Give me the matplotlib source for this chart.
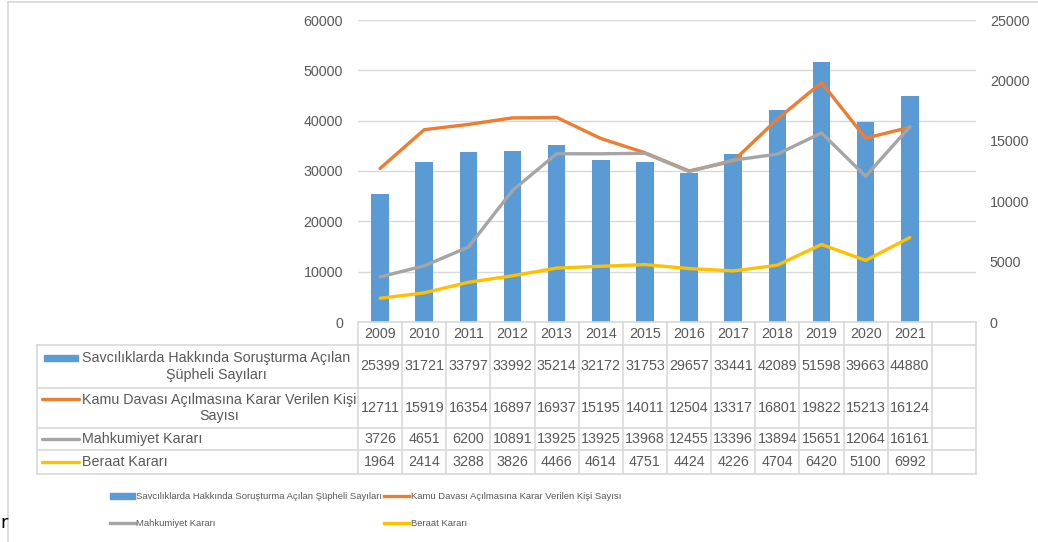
import numpy as np
import matplotlib
matplotlib.use('Agg')
import matplotlib.pyplot as plt
import matplotlib.transforms as mtransforms
from matplotlib.lines import Line2D
from matplotlib.patches import Patch, Rectangle


#----------------------------------------------------------------------------------------------------
#   Data                                                                                            -
#----------------------------------------------------------------------------------------------------

years = ['2009', '2010', '2011', '2012', '2013', '2014', '2015', '2016', '2017', '2018', '2019', '2020', '2021']

supheli = [25399, 31721, 33797, 33992, 35214, 32172, 31753, 29657, 33441, 42089, 51598, 39663, 44880]
kamu_davasi = [12711, 15919, 16354, 16897, 16937, 15195, 14011, 12504, 13317, 16801, 19822, 15213, 16124]
mahkumiyet = [3726, 4651, 6200, 10891, 13925, 13925, 13968, 12455, 13396, 13894, 15651, 12064, 16161]
beraat = [1964, 2414, 3288, 3826, 4466, 4614, 4751, 4424, 4226, 4704, 6420, 5100, 6992]

names = ['Savcılıklarda Hakkında Soruşturma Açılan Şüpheli Sayıları',
         'Kamu Davası Açılmasına Karar Verilen Kişi Sayısı',
         'Mahkumiyet Kararı',
         'Beraat Kararı']
# row labels as wrapped inside the data table
table_labels = ['Savcılıklarda Hakkında Soruşturma Açılan\nŞüpheli Sayıları',
                'Kamu Davası Açılmasına Karar Verilen Kişi\nSayısı',
                'Mahkumiyet Kararı',
                'Beraat Kararı']

colors = ['#5B9BD5', '#ED7D31', '#A5A5A5', '#FFC000']
text_col = '#595959'
grid_col = '#D9D9D9'


#----------------------------------------------------------------------------------------------------
#   Layout (pixels)                                                                                 -
#----------------------------------------------------------------------------------------------------

W, H = 1038, 542
PL, PR, PT, PB = 358, 976, 20, 322
row_edges = [322, 345, 388, 428, 450, 474]
label_left = 37

plt.rcParams['font.family'] = 'Liberation Sans'
fs = 10.3

fig = plt.figure(figsize=(W / 100, H / 100), dpi=100)
px = mtransforms.Affine2D().scale(1 / W, -1 / H).translate(0, 1) + fig.transFigure

ax = fig.add_axes([PL / W, 1 - PB / H, (PR - PL) / W, (PB - PT) / H])
ax2 = ax.twinx()

x = np.arange(len(years))
ncols = len(years) + 1   # Excel left one empty category at the end

ax.bar(x, supheli, width=0.4, color=colors[0], zorder=2)
ax2.plot(x, kamu_davasi, color=colors[1], lw=2.4, solid_capstyle='round')
ax2.plot(x, mahkumiyet, color=colors[2], lw=2.4, solid_capstyle='round')
ax2.plot(x, beraat, color=colors[3], lw=2.4, solid_capstyle='round')

ax.set_xlim(-0.5, ncols - 0.5)
ax.set_ylim(0, 60000)
ax2.set_ylim(0, 25000)
ax.set_yticks(np.arange(0, 60001, 10000))
ax2.set_yticks(np.arange(0, 25001, 5000))
ax.set_xticks([])
ax.grid(axis='y', color=grid_col, lw=1.0)
ax.set_axisbelow(True)
ax.tick_params(axis='y', length=0, pad=10.8, labelsize=fs, labelcolor=text_col)
ax2.tick_params(axis='y', length=0, pad=10.0, labelsize=fs, labelcolor=text_col)
for a in (ax, ax2):
    for s in a.spines.values():
        s.set_visible(False)


#----------------------------------------------------------------------------------------------------
#   Data table                                                                                      -
#----------------------------------------------------------------------------------------------------

colx = mtransforms.blended_transform_factory(ax.transData, px)

# horizontal rules
fig.add_artist(Line2D([PL, PR], [row_edges[0]] * 2, transform=px, color=grid_col, lw=1.2))
for y in row_edges[1:]:
    fig.add_artist(Line2D([label_left, PR], [y, y], transform=px, color=grid_col, lw=1.2))
# vertical rules
for i in range(ncols + 1):
    fig.add_artist(Line2D([i - 0.5, i - 0.5], [row_edges[0], row_edges[-1]], transform=colx,
                          color=grid_col, lw=1.2))
fig.add_artist(Line2D([label_left, label_left], [row_edges[1], row_edges[-1]], transform=px,
                      color=grid_col, lw=1.2))

# header row
for i, yr in enumerate(years):
    fig.text(i, (row_edges[0] + row_edges[1]) / 2, yr, transform=colx, ha='center', va='center',
             fontsize=fs, color=text_col)

series = [supheli, kamu_davasi, mahkumiyet, beraat]
for r, vals in enumerate(series):
    yc = (row_edges[r + 1] + row_edges[r + 2]) / 2
    for i, v in enumerate(vals):
        fig.text(i, yc, str(v), transform=colx, ha='center', va='center', fontsize=fs, color=text_col)
    nlines = table_labels[r].count('\n') + 1
    ykey = yc - 9 * (nlines - 1)
    if r == 0:
        fig.add_artist(Rectangle((44, ykey - 3), 34, 6, transform=px, color=colors[0]))
    else:
        fig.add_artist(Line2D([42, 79], [ykey, ykey], transform=px, color=colors[r], lw=2.4,
                              solid_capstyle='round'))
    fig.text(82, yc, table_labels[r], transform=px, ha='left', va='center', multialignment='center',
             fontsize=fs, color=text_col, linespacing=1.25)


#----------------------------------------------------------------------------------------------------
#   Legend + chart frame                                                                            -
#----------------------------------------------------------------------------------------------------

handles = [Patch(color=colors[0]),
           Line2D([], [], color=colors[2], lw=2.4),
           Line2D([], [], color=colors[1], lw=2.4),
           Line2D([], [], color=colors[3], lw=2.4)]
labels = [names[0], names[2], names[1], names[3]]
fig.legend(handles, labels, ncol=2, loc='upper left', bbox_to_anchor=(110 / W, 1 - 492 / H),
           frameon=False, prop=dict(size=6.8),
           labelcolor=text_col, handlelength=2.6, handleheight=0.65, handletextpad=0.2,
           columnspacing=0.2, labelspacing=1.9, borderpad=0, borderaxespad=0)

fig.add_artist(Line2D([8, W], [2, 2], transform=px, color=grid_col, lw=1.2))
fig.add_artist(Line2D([8, 8], [2, H], transform=px, color=grid_col, lw=1.2))
fig.text(8, 523, 'r', transform=px, ha='right', va='center', fontsize=13, color='black',
         family='DejaVu Sans')

fig.savefig('out.png', dpi=100)
